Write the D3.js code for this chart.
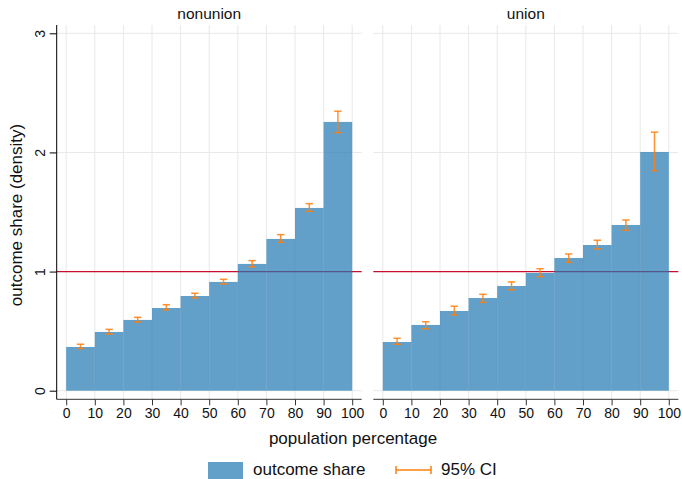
<!DOCTYPE html>
<html><head><meta charset="utf-8">
<script src="https://cdn.jsdelivr.net/npm/d3@7"></script>
<style>body{margin:0;background:#fff}svg{display:block;font-family:"Liberation Sans",Arial,sans-serif}</style>
</head><body><svg id="c" width="682" height="479"></svg>
<script>
const panels = ["nonunion", "union"];
const binStarts = [0, 10, 20, 30, 40, 50, 60, 70, 80, 90];
const nonunionShare = [0.367, 0.493, 0.594, 0.694, 0.795, 0.913, 1.064, 1.274, 1.534, 2.256];
const nonunionLo = [0.353, 0.476, 0.577, 0.678, 0.778, 0.896, 1.039, 1.246, 1.506, 2.166];
const nonunionHi = [0.390, 0.515, 0.616, 0.722, 0.818, 0.935, 1.092, 1.310, 1.570, 2.346];
const unionShare = [0.409, 0.552, 0.669, 0.778, 0.879, 0.988, 1.114, 1.223, 1.391, 2.004];
const unionLo = [0.390, 0.520, 0.636, 0.742, 0.846, 0.957, 1.078, 1.190, 1.347, 1.847];
const unionHi = [0.440, 0.579, 0.709, 0.809, 0.913, 1.024, 1.148, 1.263, 1.433, 2.170];
const xTicks = [0, 10, 20, 30, 40, 50, 60, 70, 80, 90, 100];
const yTicks = [0, 1, 2, 3];
const refLine = 1;
const legendLabels = ["outcome share", "95% CI"];

const series = {
  nonunion: {share: nonunionShare, lo: nonunionLo, hi: nonunionHi},
  union: {share: unionShare, lo: unionLo, hi: unionHi}
};

const svg = d3.select("#c");
const panelLeft = [56.7, 373.3];
const panelW = 305, pad = 9.5;
const plotTop = 25, axisY = 399.3;
const y = d3.scaleLinear().domain([0, 3]).range([390.7, 33.3]);
const barColor = "#1f77b4", barOpacity = 0.7;
const ciColor = "#ff7f0e";
const font = "'Liberation Sans', Arial, sans-serif";

panels.forEach((name, i) => {
  const x0 = panelLeft[i];
  const x = d3.scaleLinear().domain([0, 100]).range([x0 + pad, x0 + panelW - pad]);
  const g = svg.append("g");
  // grid
  g.selectAll(".vg").data(xTicks).join("line")
    .attr("x1", d => x(d)).attr("x2", d => x(d))
    .attr("y1", plotTop).attr("y2", axisY)
    .attr("stroke", "#e8e8e8").attr("stroke-width", 1);
  g.selectAll(".hg").data(yTicks).join("line")
    .attr("x1", x0).attr("x2", x0 + panelW)
    .attr("y1", d => y(d)).attr("y2", d => y(d))
    .attr("stroke", "#e8e8e8").attr("stroke-width", 1);
  // reference line
  g.append("line")
    .attr("x1", x0).attr("x2", x0 + panelW)
    .attr("y1", y(refLine)).attr("y2", y(refLine))
    .attr("stroke", "#c8102e").attr("stroke-width", 1.2);
  const s = series[name];
  // bars
  g.selectAll(".bar").data(binStarts).join("rect")
    .attr("x", d => x(d)).attr("width", d => x(d + 10) - x(d))
    .attr("y", (d, j) => y(s.share[j])).attr("height", (d, j) => y(0) - y(s.share[j]))
    .attr("fill", barColor).attr("fill-opacity", barOpacity);
  // CIs
  const cw = 3.7;
  const ci = g.selectAll(".ci").data(binStarts).join("g")
    .attr("stroke", ciColor).attr("stroke-width", 1.5).attr("stroke-opacity", 0.85);
  ci.append("line").attr("x1", d => x(d + 5)).attr("x2", d => x(d + 5))
    .attr("y1", (d, j) => y(s.lo[j])).attr("y2", (d, j) => y(s.hi[j]));
  ci.append("line").attr("x1", d => x(d + 5) - cw).attr("x2", d => x(d + 5) + cw)
    .attr("y1", (d, j) => y(s.lo[j])).attr("y2", (d, j) => y(s.lo[j]));
  ci.append("line").attr("x1", d => x(d + 5) - cw).attr("x2", d => x(d + 5) + cw)
    .attr("y1", (d, j) => y(s.hi[j])).attr("y2", (d, j) => y(s.hi[j]));
  // x axis
  const xa = g.append("g").attr("transform", `translate(0,${axisY})`)
    .call(d3.axisBottom(x).tickValues(xTicks).tickSize(6).tickPadding(3).tickSizeOuter(0));
  xa.select(".domain").attr("d", `M${x0},0H${x0 + panelW}`).attr("stroke", "#333");
  xa.selectAll(".tick line").attr("stroke", "#333");
  xa.selectAll("text").attr("font-family", font).attr("font-size", 14).attr("fill", "#111");
  // panel title
  g.append("text").attr("x", x0 + panelW / 2).attr("y", 19).attr("text-anchor", "middle")
    .attr("font-family", font).attr("font-size", 15.5).attr("fill", "#111").text(name);
  if (i === 0) {
    const ya = g.append("g").attr("transform", `translate(${x0},0)`)
      .call(d3.axisLeft(y).tickValues(yTicks).tickFormat(d3.format("d")).tickSize(7).tickPadding(4).tickSizeOuter(0));
    ya.select(".domain").attr("d", `M0,${plotTop}V${axisY}`).attr("stroke", "#000");
    ya.selectAll(".tick line").attr("stroke", "#000");
    ya.selectAll(".tick text").attr("font-family", font).attr("font-size", 14).attr("fill", "#111")
      .attr("text-anchor", "middle").attr("dy", null)
      .attr("transform", "translate(-16,0) rotate(-90)").attr("y", 4.5).attr("x", 0);
  }
});

// axis titles
svg.append("text").attr("transform", "translate(21.5,215) rotate(-90)").attr("text-anchor", "middle")
  .attr("font-family", font).attr("font-size", 17).attr("fill", "#111").text("outcome share (density)");
svg.append("text").attr("x", 353).attr("y", 444).attr("text-anchor", "middle")
  .attr("font-family", font).attr("font-size", 17).attr("fill", "#111").text("population percentage");

// legend
const lg = svg.append("g");
lg.append("rect").attr("x", 208).attr("y", 462).attr("width", 35).attr("height", 17)
  .attr("fill", barColor).attr("fill-opacity", barOpacity);
lg.append("text").attr("x", 253).attr("y", 475).attr("font-family", font).attr("font-size", 17)
  .attr("fill", "#111").text(legendLabels[0]);
const ly = 470;
lg.append("line").attr("x1", 396).attr("x2", 431).attr("y1", ly).attr("y2", ly)
  .attr("stroke", ciColor).attr("stroke-width", 1.5);
[396, 431].forEach(v => lg.append("line").attr("x1", v).attr("x2", v).attr("y1", ly - 4).attr("y2", ly + 4)
  .attr("stroke", ciColor).attr("stroke-width", 1.5));
lg.append("text").attr("x", 441).attr("y", 475).attr("font-family", font).attr("font-size", 17)
  .attr("fill", "#111").text(legendLabels[1]);
</script></body></html>
